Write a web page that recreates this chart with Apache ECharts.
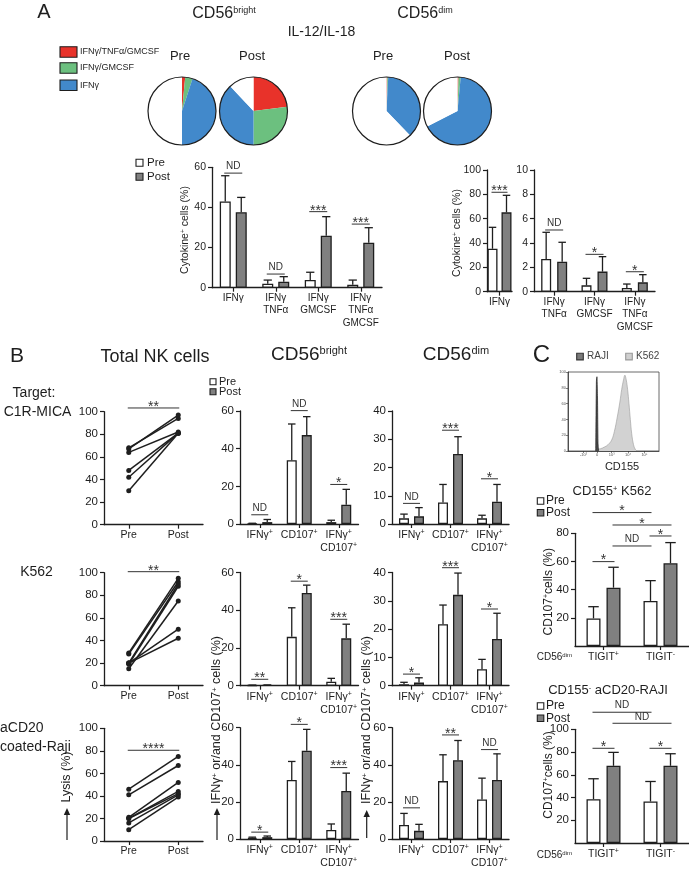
<!DOCTYPE html>
<html><head><meta charset="utf-8">
<script src="https://cdn.jsdelivr.net/npm/echarts@6/dist/echarts.min.js"></script>
<style>html,body{margin:0;padding:0;background:#fff}#c{width:689px;height:869px}</style>
</head><body><div id="c"></div>
<script>
// ---------------- DATA ----------------
const pieBrightPre  = [1.5, 3.5, 45, 50];
const pieBrightPost = [23, 27, 38, 12];
const pieDimPre     = [0.4, 0.4, 37, 62.2];
const pieDimPost    = [0.5, 1, 66, 32.5];
const pieNames = ['IFNγ/TNFα/GMCSF', 'IFNγ/GMCSF', 'IFNγ', 'none'];

const catsA  = ['IFNγ', 'IFNγ\nTNFα', 'IFNγ\nGMCSF', 'IFNγ\nTNFα\nGMCSF'];
const aBrPre = [43, 2, 3.8, 1.5];      const aBrPreErr = [55.8, 3.8, 7.7, 3.8];
const aBrPost = [37.6, 3, 25.9, 22.4]; const aBrPostErr = [45, 5.5, 35.4, 29.9];
const catsA1 = ['IFNγ'];
const aDim1Pre = [35.3]; const aDim1PreErr = [52.9];
const aDim1Post = [65.2]; const aDim1PostErr = [79.2];
const catsA2 = ['IFNγ\nTNFα', 'IFNγ\nGMCSF', 'IFNγ\nTNFα\nGMCSF'];
const aDim2Pre = [2.69, 0.52, 0.3];  const aDim2PreErr = [4.88, 1.1, 0.63];
const aDim2Post = [2.47, 1.65, 0.77]; const aDim2PostErr = [4.06, 2.88, 1.4];

const catsLine = ['Pre', 'Post'];
const c1rPre  = [68, 67, 64, 48, 42, 30];
const c1rPost = [94, 97, 82, 81, 81, 81];
const k562Pre  = [29, 28, 20, 19, 15, 20, 20];
const k562Post = [95, 92, 90, 88, 75, 50, 42];
const rajiPre  = [46, 41, 21, 20, 20, 16, 10];
const rajiPost = [75, 67, 52, 44, 42, 41, 39];

const catsB = ['IFNγ+', 'CD107+', 'IFNγ+\nCD107+'];
const bBr1Pre = [0.2, 33.9, 1.0];  const bBr1PreErr = [0.4, 53.1, 2.0];
const bBr1Post = [1.0, 47.2, 10.2]; const bBr1PostErr = [2.4, 57, 18.4];
const bDim1Pre = [2.0, 7.6, 2.0];  const bDim1PreErr = [3.5, 14, 3.1];
const bDim1Post = [2.7, 24.8, 7.9]; const bDim1PostErr = [5.8, 30.9, 14];
const bBr2Pre = [0.2, 25.9, 2.1];  const bBr2PreErr = [0.3, 41.3, 3.9];
const bBr2Post = [0.3, 49.2, 25.1]; const bBr2PostErr = [0.4, 53.3, 32.6];
const bDim2Pre = [0.5, 21.7, 5.8];  const bDim2PreErr = [1.2, 28.5, 9.3];
const bDim2Post = [1.1, 32.1, 16.5]; const bDim2PostErr = [2.8, 39.8, 25.6];
const bBr3Pre = [0.7, 31.8, 4.9];  const bBr3PreErr = [1.0, 41.8, 8.1];
const bBr3Post = [1.0, 47.6, 25.9]; const bBr3PostErr = [1.6, 59.1, 35.5];
const bDim3Pre = [7.6, 31.2, 21.3];  const bDim3PreErr = [13.8, 45.4, 32.8];
const bDim3Post = [4.4, 42.5, 31.8]; const bDim3PostErr = [7.9, 53.1, 45.9];

const catsC = ['TIGIT+', 'TIGIT-'];
const cK562Pre = [19.6, 32];  const cK562PreErr = [27.9, 46.4];
const cK562Post = [41.4, 58.7]; const cK562PostErr = [55.9, 73.4];
const cRajiPre = [38.5, 36.5]; const cRajiPreErr = [56.5, 54.1];
const cRajiPost = [67.9, 67.9]; const cRajiPostErr = [79.7, 78.5];

const histK562 = [[30,0],[32,2],[36,3],[40,5],[44,8],[48,14],[51,25],[54,42],[57,62],[59,78],[61,90],[62.5,96],[64,90],[65.5,78],[67,60],[68.5,40],[70,22],[72,8],[74,2],[76,0]];
const histRaji = [[30.5,0],[31.2,88],[31.8,94],[32.4,70],[33,10],[33.6,0]];
const histXTicks = [17, 32, 48, 66, 84];
const histXTickLabels = ['-10³', '0', '10³', '10⁴', '10⁵'];

// ---------------- HELPERS ----------------
const FONT = "'Liberation Sans', Arial, Helvetica, sans-serif";
const INK = '#1e1e1e';
const option = {backgroundColor:'#ffffff', animation:false, textStyle:{fontFamily:FONT},
  grid:[], xAxis:[], yAxis:[], series:[]};
const panels = [];

function supFmt(v){
  return String(v).split('\n').map(l => {
    const m = l.match(/^(.*?)([+\-])$/);
    return m ? '{a|' + m[1] + '}{s|' + m[2] + '}' : '{a|' + l + '}';
  }).join('\n');
}
function labelRich(fs){
  return {a:{fontSize:fs, fontFamily:FONT, color:INK, lineHeight:fs+2.5},
          s:{fontSize:Math.round(fs*0.65), fontFamily:FONT, color:INK, verticalAlign:'top', lineHeight:fs+2.5}};
}
function axLine(w){ return {show:true, onZero:false, lineStyle:{color:INK, width:w||1.3}}; }
function axTick(len){ return {show:true, alignWithLabel:true, length:len||4, lineStyle:{color:INK, width:1.2}}; }

function addGrid(l,t,w,h,extra){ option.grid.push(Object.assign({left:l, top:t, width:w, height:h}, extra||{})); return option.grid.length-1; }
function addY(gi, max, interval, fs, showMin){
  option.yAxis.push({type:'value', gridIndex:gi, min:0, max:max, interval:interval,
    axisLine:axLine(), axisTick:axTick(4), splitLine:{show:false},
    axisLabel:{fontSize:fs, color:INK, fontFamily:FONT, margin:6, showMinLabel:showMin}});
}
function addCatX(gi, cats, fs, margin){
  option.xAxis.push({type:'category', gridIndex:gi, data:cats,
    axisLine:axLine(), axisTick:axTick(4), splitLine:{show:false},
    axisLabel:{interval:0, margin:margin, formatter:supFmt, rich:labelRich(fs)}});
}

function addBars(p){
  const gi = addGrid(p.left, p.top, p.width, p.height);
  addCatX(gi, p.cats, p.fs, p.margin);
  addY(gi, p.max, p.interval, p.yfs, p.showMin !== false);
  const gapPct = (p.gap / p.barW * 100) + '%';
  const border = {borderColor:INK, borderWidth:1.3};
  option.series.push({type:'bar', name:'Pre', xAxisIndex:gi, yAxisIndex:gi, data:p.pre,
    barWidth:p.barW, barGap:gapPct, silent:true, itemStyle:Object.assign({color:'#ffffff'}, border)});
  option.series.push({type:'bar', name:'Post', xAxisIndex:gi, yAxisIndex:gi, data:p.post,
    barWidth:p.barW, barGap:gapPct, silent:true, itemStyle:Object.assign({color:'#808080'}, border)});
  const off = (p.barW + p.gap) / 2;
  const errData = [];
  p.pre.forEach((v,i) => errData.push([i, p.preErr[i], v, -1]));
  p.post.forEach((v,i) => errData.push([i, p.postErr[i], v, 1]));
  const cap = p.barW * 0.75;
  option.series.push({type:'custom', xAxisIndex:gi, yAxisIndex:gi, data:errData, z:5, silent:true,
    encode:{x:0, y:1},
    renderItem:(params, api) => {
      const t = api.coord([api.value(0), api.value(1)]);
      const b = api.coord([api.value(0), api.value(2)]);
      const x = t[0] + api.value(3) * off;
      return {type:'group', children:[
        {type:'line', shape:{x1:x, y1:b[1], x2:x, y2:t[1]}, style:{stroke:INK, lineWidth:1.3}},
        {type:'line', shape:{x1:x-cap/2, y1:t[1], x2:x+cap/2, y2:t[1]}, style:{stroke:INK, lineWidth:1.3}}
      ]};
    }});
  panels.push({gi:gi, off:off, sig:p.sig});
}

function addLines(p){
  const gi = addGrid(p.left, p.top, p.width, p.height);
  addCatX(gi, catsLine, 10.5, 4);
  addY(gi, 100, 20, 11.5, true);
  p.pre.forEach((v,i) => {
    option.series.push({type:'line', xAxisIndex:gi, yAxisIndex:gi, data:[v, p.post[i]],
      symbol:'circle', symbolSize:5, silent:true, z:3,
      itemStyle:{color:INK}, lineStyle:{color:INK, width:1.5}});
  });
  panels.push({gi:gi, off:0, sig:p.sig});
}

// ---------------- PANELS ----------------
// A pies
const pieColors = ['#e8322a', '#6cc07f', '#4289cb', '#ffffff'];
function addPie(cx, cy, vals){
  option.series.push({type:'pie', center:[cx, cy], radius:34, startAngle:90, clockwise:true, silent:true,
    label:{show:false}, labelLine:{show:false},
    data: vals.map((v,i) => ({value:v, name:pieNames[i], itemStyle:{color:pieColors[i], borderWidth:0}}))});
  option.series.push({type:'pie', center:[cx, cy], radius:34, silent:true, z:4,
    label:{show:false}, labelLine:{show:false},
    data:[{value:1, itemStyle:{color:'rgba(0,0,0,0)', borderColor:INK, borderWidth:1.2}}]});
}
addPie(182, 111, pieBrightPre);
addPie(253.5, 111, pieBrightPost);
addPie(386.5, 111, pieDimPre);
addPie(457.5, 111, pieDimPost);

// A bars
addBars({left:212, top:167.3, width:170, height:120.4, cats:catsA, pre:aBrPre, preErr:aBrPreErr, post:aBrPost, postErr:aBrPostErr,
  max:60, interval:20, barW:11, gap:5, fs:10, margin:4, yfs:10.5,
  sig:[[0,-1,0,1,57.1,'ND'],[1,-1,1,1,6.8,'ND'],[2,-1,2,1,37.9,'***'],[3,-1,3,1,31.7,'***']]});
addBars({left:487, top:170, width:25, height:121.7, cats:catsA1, pre:aDim1Pre, preErr:aDim1PreErr, post:aDim1Post, postErr:aDim1PostErr,
  max:100, interval:20, barW:10, gap:4, fs:10, margin:4, yfs:10.5,
  sig:[[0,-1,0,1,81.7,'***']]});
addBars({left:534, top:170, width:121, height:121.7, cats:catsA2, pre:aDim2Pre, preErr:aDim2PreErr, post:aDim2Post, postErr:aDim2PostErr,
  max:10, interval:2, barW:10, gap:6, fs:10, margin:4, yfs:10.5,
  sig:[[0,-1,0,1,5.07,'ND'],[1,-1,1,1,3.07,'*'],[2,-1,2,1,1.64,'*']]});

// B line charts
addLines({left:104, top:411.7, width:99, height:113, pre:c1rPre, post:c1rPost, sig:[[0,0,1,0,103.3,'**']]});
addLines({left:104, top:572.7, width:99, height:113, pre:k562Pre, post:k562Post, sig:[[0,0,1,0,100.9,'**']]});
addLines({left:104, top:728.3, width:99, height:112.7, pre:rajiPre, post:rajiPost, sig:[[0,0,1,0,80.5,'****']]});

// B bars
const bCommon = {cats:catsB, barW:10, gap:5, fs:10.5, margin:5, yfs:11.5};
addBars(Object.assign({}, bCommon, {left:240, top:411, width:118.5, height:113, pre:bBr1Pre, preErr:bBr1PreErr, post:bBr1Post, postErr:bBr1PostErr,
  max:60, interval:20, sig:[[0,-1,0,1,4.9,'ND'],[1,-1,1,1,60.2,'ND'],[2,-1,2,1,21,'*']]}));
addBars(Object.assign({}, bCommon, {left:392, top:411, width:117, height:113, pre:bDim1Pre, preErr:bDim1PreErr, post:bDim1Post, postErr:bDim1PostErr,
  max:40, interval:10, sig:[[0,-1,0,1,7.3,'ND'],[1,-1,1,1,33.2,'***'],[2,-1,2,1,16,'*']]}));
addBars(Object.assign({}, bCommon, {left:240, top:572.5, width:118.5, height:113.2, pre:bBr2Pre, preErr:bBr2PreErr, post:bBr2Post, postErr:bBr2PostErr,
  max:60, interval:20, sig:[[0,-1,0,1,3.4,'**'],[1,-1,1,1,55.4,'*'],[2,-1,2,1,35.2,'***']]}));
addBars(Object.assign({}, bCommon, {left:392, top:572.5, width:117, height:113.2, pre:bDim2Pre, preErr:bDim2PreErr, post:bDim2Post, postErr:bDim2PostErr,
  max:40, interval:10, sig:[[0,-1,0,1,4.1,'*'],[1,-1,1,1,41.7,'***'],[2,-1,2,1,27.1,'*']]}));
addBars(Object.assign({}, bCommon, {left:240, top:727.7, width:118.5, height:113.3, pre:bBr3Pre, preErr:bBr3PreErr, post:bBr3Post, postErr:bBr3PostErr,
  max:60, interval:20, sig:[[0,-1,0,1,3.7,'*'],[1,-1,1,1,61.8,'*'],[2,-1,2,1,38.5,'***']]}));
addBars(Object.assign({}, bCommon, {left:392, top:727.7, width:117, height:113.3, pre:bDim3Pre, preErr:bDim3PreErr, post:bDim3Post, postErr:bDim3PostErr,
  max:60, interval:20, sig:[[0,-1,0,1,16.8,'ND'],[1,-1,1,1,56.1,'**'],[2,-1,2,1,48.2,'ND']]}));

// C bars
addBars({left:575, top:533.3, width:116, height:112.7, cats:catsC, pre:cK562Pre, preErr:cK562PreErr, post:cK562Post, postErr:cK562PostErr,
  max:80, interval:20, barW:14, gap:6, fs:10.5, margin:5, yfs:11.5, showMin:false,
  sig:[[0,-1,0,1,59.9,'*'],[0,1,1,-1,71,'ND'],[1,-1,1,1,78.1,'*'],[0,-1,1,-1,94.7,'*'],[0,1,1,1,85.9,'*']]});
addBars({left:575, top:729.3, width:116, height:113.7, cats:catsC, pre:cRajiPre, preErr:cRajiPreErr, post:cRajiPost, postErr:cRajiPostErr,
  max:100, interval:20, barW:14, gap:6, fs:10.5, margin:5, yfs:11.5, showMin:false,
  sig:[[0,-1,0,1,83.3,'*'],[1,-1,1,1,83.3,'*'],[0,-1,1,-1,115,'ND'],[0,1,1,1,105.3,'ND']]});

// C histogram
(function(){
  const gi = addGrid(568, 372, 91, 79, {show:true, borderColor:'#444', borderWidth:0.8, backgroundColor:'#fff'});
  option.xAxis.push({type:'value', gridIndex:gi, min:0, max:100,
    axisLine:{show:true, onZero:false, lineStyle:{color:'#333', width:0.8}},
    axisTick:{show:true, length:2, customValues:histXTicks, lineStyle:{color:'#333', width:0.6}},
    splitLine:{show:false},
    axisLabel:{fontSize:4, color:'#555', margin:2, customValues:histXTicks,
      formatter:(v) => histXTickLabels[histXTicks.indexOf(v)] || ''}});
  option.yAxis.push({type:'value', gridIndex:gi, min:0, max:100, interval:20,
    axisLine:{show:true, onZero:false, lineStyle:{color:'#333', width:0.8}},
    axisTick:{show:true, length:2, lineStyle:{color:'#333', width:0.6}},
    splitLine:{show:false}, axisLabel:{fontSize:4, color:'#555', margin:2}});
  option.series.push({type:'line', xAxisIndex:gi, yAxisIndex:gi, data:histK562, smooth:0.4, showSymbol:false, silent:true,
    lineStyle:{color:'#9a9a9a', width:0.6}, areaStyle:{color:'#d2d2d2', opacity:1}, z:2});
  option.series.push({type:'line', xAxisIndex:gi, yAxisIndex:gi, data:histRaji, smooth:0.2, showSymbol:false, silent:true,
    lineStyle:{color:'#222', width:0.7}, areaStyle:{color:'#4a4a4a', opacity:1}, z:3});
})();

// ---------------- RENDER ----------------
const chart = echarts.init(document.getElementById('c'), null, {renderer:'canvas', width:689, height:869});
chart.setOption(option);

const G = [];
function supRich(fs, sfs){
  return {a:{fontSize:fs, fontFamily:FONT, fill:INK, color:INK, verticalAlign:'bottom'},
          s:{fontSize:sfs, fontFamily:FONT, fill:INK, color:INK, verticalAlign:'top'}};
}
function txt(x, y, text, fs, o){
  o = o || {};
  const st = {text:text, fontSize:fs, fontFamily:FONT, fill:o.color||INK,
    textAlign:o.align||'center', align:o.align||'center', textVerticalAlign:'middle', verticalAlign:'middle'};
  if (o.rich) st.rich = o.rich;
  G.push({type:'text', x:x, y:y, rotation:o.rot||0, silent:true, z:20, style:st});
}
function rect(x, y, w, h, fill, stroke){
  G.push({type:'rect', silent:true, z:20, shape:{x:x, y:y, width:w, height:h}, style:{fill:fill, stroke:stroke||INK, lineWidth:1.1}});
}
function arrow(x, yb, yt){
  G.push({type:'line', silent:true, z:20, shape:{x1:x, y1:yb, x2:x, y2:yt+6}, style:{stroke:INK, lineWidth:1.2}});
  G.push({type:'polygon', silent:true, z:20, shape:{points:[[x-3.2, yt+7], [x+3.2, yt+7], [x, yt]]}, style:{fill:INK}});
}
function sigMark(x1, x2, y, t){
  G.push({type:'line', silent:true, z:20, shape:{x1:x1, y1:y, x2:x2, y2:y}, style:{stroke:'#333', lineWidth:1}});
  const star = /^\*+$/.test(t);
  txt((x1+x2)/2, star ? y - 1 : y - 6.5, t, star ? 14 : 10, {color:'#333'});
}

// Panel A text
txt(44, 12, 'A', 20);
txt(224, 14, '{a|CD56}{s|bright}', 16, {rich:supRich(16, 9)});
txt(425, 14, '{a|CD56}{s|dim}', 16, {rich:supRich(16, 9)});
txt(321.5, 32, 'IL-12/IL-18', 14);
rect(60, 46.7, 17, 10.5, pieColors[0]);
rect(60, 62.7, 17, 10.5, pieColors[1]);
rect(60, 80, 17, 10.5, pieColors[2]);
txt(80, 52, 'IFNγ/TNFα/GMCSF', 9, {align:'left'});
txt(80, 68, 'IFNγ/GMCSF', 9, {align:'left'});
txt(80, 85.3, 'IFNγ', 9, {align:'left'});
txt(180, 56, 'Pre', 13); txt(252, 56, 'Post', 13);
txt(383, 56, 'Pre', 13); txt(457, 56, 'Post', 13);
rect(136, 159.3, 7, 7, '#ffffff'); rect(136, 173.3, 7, 7, '#808080');
txt(147, 163, 'Pre', 11.5, {align:'left'}); txt(147, 177, 'Post', 11.5, {align:'left'});
txt(185, 230, '{a|Cytokine}{s|+}{a| cells (%)}', 10.5, {rot:Math.PI/2, rich:supRich(10.5, 6.5)});
txt(457, 233, '{a|Cytokine}{s|+}{a| cells (%)}', 10.5, {rot:Math.PI/2, rich:supRich(10.5, 6.5)});

// Panel B text
txt(17, 356, 'B', 21);
txt(155, 357, 'Total NK cells', 18);
txt(309, 355, '{a|CD56}{s|bright}', 19, {rich:supRich(19, 11)});
txt(456, 355, '{a|CD56}{s|dim}', 19, {rich:supRich(19, 11)});
txt(34, 393, 'Target:', 14);
txt(37.5, 412, 'C1R-MICA', 14);
txt(36.5, 571.7, 'K562', 14);
txt(0, 728, 'aCD20', 14, {align:'left'});
txt(0, 746.7, 'coated-Raji', 14, {align:'left'});
rect(210, 378.7, 6, 6, '#ffffff'); rect(210, 388.7, 6, 6, '#808080');
txt(219, 381.7, 'Pre', 11, {align:'left'}); txt(219, 391.7, 'Post', 11, {align:'left'});
txt(67, 777, 'Lysis (%)', 12.5, {rot:Math.PI/2});
txt(217, 720, '{a|IFNγ}{s|+}{a| or/and CD107}{s|+}{a| cells (%)}', 12.5, {rot:Math.PI/2, rich:supRich(12.5, 7.5)});
txt(367, 720, '{a|IFNγ}{s|+}{a| or/and CD107}{s|+}{a| cells (%)}', 12.5, {rot:Math.PI/2, rich:supRich(12.5, 7.5)});
arrow(67, 840, 808);
arrow(217, 840, 808);
arrow(366.7, 838, 810);

// Panel C text
txt(541.5, 355, 'C', 24);
rect(576.7, 353.3, 6.6, 6.6, '#7a7a7a', '#333');
txt(587, 356.7, 'RAJI', 10, {align:'left', color:'#444'});
rect(625.7, 353.3, 6.6, 6.6, '#cfcfcf', '#999');
txt(636, 356.7, 'K562', 10, {align:'left', color:'#444'});
txt(622, 467, 'CD155', 11);
txt(612, 491, '{a|CD155}{s|+}{a| K562}', 13, {rich:supRich(13, 7.5)});
rect(537.3, 497.7, 6.5, 6.5, '#ffffff'); rect(537.3, 509.5, 6.5, 6.5, '#808080');
txt(546, 501, 'Pre', 12, {align:'left'}); txt(546, 512.7, 'Post', 12, {align:'left'});
txt(572, 657, '{a|CD56}{s|dim}', 10, {align:'right', rich:supRich(10, 6)});
txt(549, 591.7, '{a|CD107}{s|+}{a|cells (%)}', 12, {rot:Math.PI/2, rich:supRich(12, 7)});
txt(608, 690, '{a|CD155}{s|-}{a| aCD20-RAJI}', 13, {rich:supRich(13, 7.5)});
rect(537.3, 702.7, 6.5, 6.5, '#ffffff'); rect(537.3, 715, 6.5, 6.5, '#808080');
txt(546, 706, 'Pre', 12, {align:'left'}); txt(546, 718.3, 'Post', 12, {align:'left'});
txt(572, 855, '{a|CD56}{s|dim}', 10, {align:'right', rich:supRich(10, 6)});
txt(549, 775, '{a|CD107}{s|+}{a|cells (%)}', 12, {rot:Math.PI/2, rich:supRich(12, 7)});

// Significance marks (positions from the library's scales)
panels.forEach(p => {
  (p.sig || []).forEach(s => {
    const x1 = chart.convertToPixel({xAxisIndex:p.gi}, s[0]) + s[1]*p.off;
    const x2 = chart.convertToPixel({xAxisIndex:p.gi}, s[2]) + s[3]*p.off;
    const y = chart.convertToPixel({yAxisIndex:p.gi}, s[4]);
    sigMark(Math.min(x1,x2) - 1, Math.max(x1,x2) + 1, y, s[5]);
  });
});
chart.setOption({graphic:{elements:G}});
</script>
</body></html>
